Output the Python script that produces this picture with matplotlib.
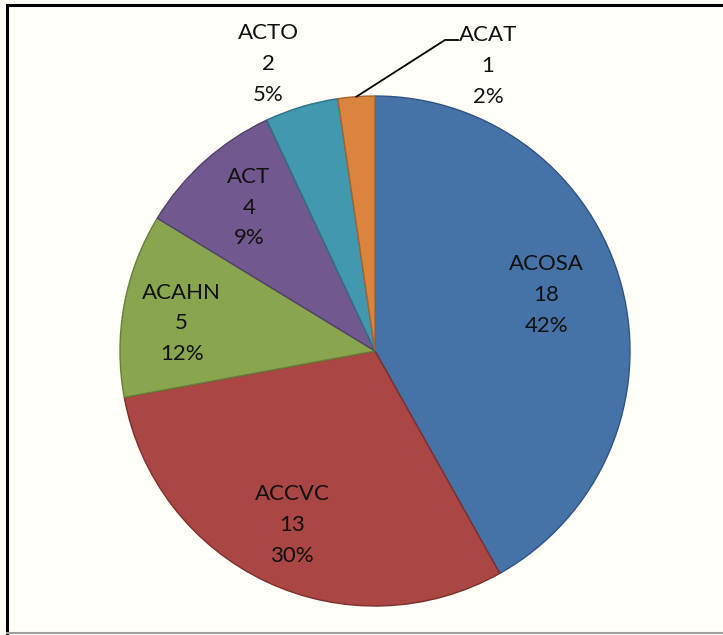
import numpy as np
import matplotlib
matplotlib.use("Agg")
import matplotlib.pyplot as plt
from matplotlib.lines import Line2D

categories = ["ACOSA", "ACCVC", "ACAHN", "ACT", "ACTO", "ACAT"]
counts = [18, 13, 5, 4, 2, 1]
face_colors = ["#4572A7", "#AA4643", "#89A54E", "#71588F", "#4198AF", "#DB843D"]
edge_colors = ["#2F5383", "#7F2F2C", "#65803A", "#51406A", "#2E7186", "#A9622B"]

W, H = 723, 635
fig = plt.figure(figsize=(W / 100, H / 100), dpi=100, facecolor="#FFFEF8")
ax = fig.add_axes([0, 0, 1, 1])

cx, cy, r = 375, H - 351, 255
wedges, _ = ax.pie(counts, colors=face_colors, startangle=90, counterclock=False,
                   center=(cx, cy), radius=r, frame=True,
                   wedgeprops=dict(linewidth=1.0))
for w, ec in zip(wedges, edge_colors):
    w.set_edgecolor(ec)
ax.set_xlim(0, W)
ax.set_ylim(0, H)
ax.set_aspect("equal")
ax.axis("off")

total = sum(counts)
font = dict(family=["Lato", "DejaVu Sans"], fontsize=16, color="#111111",
            ha="center", va="center", linespacing=1.68)

def label_text(i):
    return f"{categories[i]}\n{counts[i]}\n{round(100 * counts[i] / total)}%"

# label anchors as (fraction of radius, polar angle in degrees)
label_polar = [(0.706, 18.1), (0.756, -115.5), (0.766, 171.9), (0.749, 131.3), (1.20, 110.4)]
for i, (frac, deg) in enumerate(label_polar):
    a = np.deg2rad(deg)
    ax.text(cx + frac * r * np.cos(a), cy + frac * r * np.sin(a), label_text(i), **font)

# ACAT label with a leader line from the middle of its slice edge
w = wedges[5]
ang = np.deg2rad((w.theta1 + w.theta2) / 2)
px, py = cx + r * np.cos(ang), cy + r * np.sin(ang)
ax.text(488, H - 66, label_text(5), **font)
ax.plot([px, 445, 458], [py, H - 40, H - 40], color="black", lw=1.3)

# chart frame
fig.add_artist(Line2D([6.5, W], [H - 4.5, H - 4.5], transform=None, color="black", lw=2.2))
fig.add_artist(Line2D([6.5, 6.5], [H - 4.5, 2], transform=None, color="black", lw=2.2))
fig.add_artist(Line2D([6.5, W], [2, 2], transform=None, color="#A0A0A0", lw=1.5))

fig.savefig("out.png", dpi=100, facecolor=fig.get_facecolor())
